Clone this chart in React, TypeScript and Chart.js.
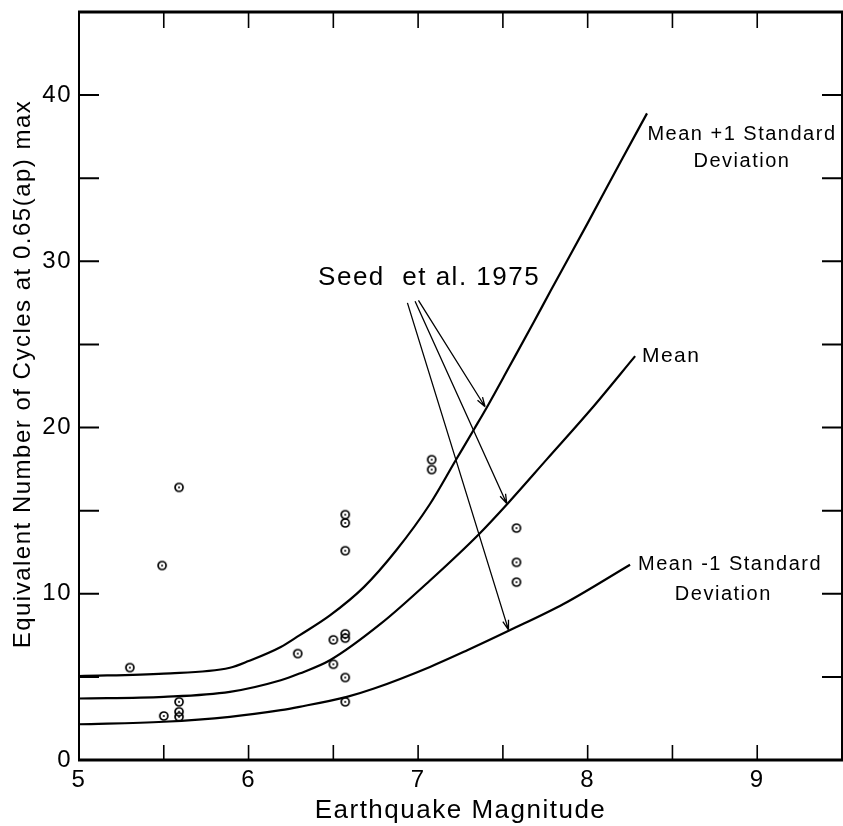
import React, { useEffect, useRef } from 'react';
import { Chart, registerables } from 'chart.js';

Chart.register(...registerables);

const FONT = "'Liberation Sans', Arial, sans-serif";

// Observed data (earthquake magnitude vs equivalent number of cycles)
const pointMagnitudes = [5.30, 5.49, 5.50, 5.59, 5.59, 5.59, 5.59, 6.29, 6.50, 6.50, 6.57, 6.57, 6.57, 6.57, 6.57, 6.57, 6.57, 7.08, 7.08, 7.58, 7.58, 7.58];
const pointCycles = [5.56, 11.7, 2.65, 16.4, 3.5, 2.9, 2.6, 6.4, 7.23, 5.76, 7.33, 7.59, 4.96, 3.5, 14.76, 14.26, 12.59, 18.07, 17.47, 13.95, 11.89, 10.7];

// Seed et al. 1975 curves
const plusSdMagnitudes = [5.0, 5.5, 5.89, 6.0, 6.19, 6.3, 6.48, 6.68, 6.87, 7.07, 7.22, 7.33, 7.41, 7.54, 7.68, 7.78, 8.0, 8.2, 8.35];
const plusSdCycles = [5.05, 5.2, 5.55, 5.95, 6.8, 7.5, 8.7, 10.4, 12.6, 15.4, 18.0, 19.9, 21.3, 23.7, 26.3, 28.2, 32.3, 36.1, 38.9];

const meanMagnitudes = [5.0, 5.5, 5.89, 6.19, 6.3, 6.48, 6.78, 7.07, 7.36, 7.53, 7.76, 8.02, 8.28];
const meanCycles = [3.7, 3.8, 4.1, 4.8, 5.2, 6.0, 8.2, 10.8, 13.6, 15.45, 18.1, 21.1, 24.3];

const minusSdMagnitudes = [5.0, 5.5, 5.89, 6.19, 6.3, 6.58, 6.74, 7.07, 7.29, 7.54, 7.86, 8.25];
const minusSdCycles = [2.15, 2.3, 2.6, 3.0, 3.2, 3.8, 4.3, 5.6, 6.6, 7.8, 9.4, 11.75];

// Axis settings
const xMin = 5;
const xMax = 9.5;
const xStep = 0.5;
const yMin = 0;
const yMax = 45;
const yStep = 5;

const xTitle = 'Earthquake Magnitude';
const yTitle = 'Equivalent Number of Cycles at 0.65(ap) max';

// Annotation anchors (data coordinates)
const seedText = 'Seed  et al. 1975';
const seedAnchor = [6.41, 29.0];
const arrowStarts = [[6.937, 27.5], [6.982, 27.6], [7.002, 27.65]];
const arrowEnds = [[7.533, 7.83], [7.523, 15.42], [7.395, 21.25]];

const plusLabel = ['Mean +1 Standard', 'Deviation'];
const plusLabelAnchor = [[8.91, 37.65], [8.91, 36.0]];
const meanLabel = 'Mean';
const meanLabelAnchor = [8.32, 24.3];
const minusLabel = ['Mean -1 Standard', 'Deviation'];
const minusLabelAnchor = [[8.84, 11.75], [8.80, 9.94]];

function zip(xs: number[], ys: number[]) {
  return xs.map((x, i) => ({ x, y: ys[i] }));
}

function makeMarker(): HTMLCanvasElement {
  const c = document.createElement('canvas');
  c.width = 12;
  c.height = 12;
  const g = c.getContext('2d')!;
  g.strokeStyle = '#000';
  g.lineWidth = 1.7;
  g.beginPath();
  g.arc(6, 6, 4, 0, Math.PI * 2);
  g.stroke();
  g.fillStyle = '#000';
  g.beginPath();
  g.arc(6, 6, 1, 0, Math.PI * 2);
  g.fill();
  return c;
}

function zeroPadding(s: any) {
  s.paddingLeft = 0;
  s.paddingRight = 0;
  s.paddingTop = 0;
  s.paddingBottom = 0;
}

const framePlugin = {
  id: 'frameAndNotes',
  beforeDraw(chart: any) {
    (chart.ctx as any).letterSpacing = '1.5px';
  },
  afterDraw(chart: any) {
    const { ctx, chartArea: a, scales } = chart;
    const xs = scales.x;
    const ys = scales.y;
    const px = (v: number) => xs.getPixelForValue(v);
    const py = (v: number) => ys.getPixelForValue(v);
    ctx.save();
    ctx.strokeStyle = '#000';
    ctx.fillStyle = '#000';
    ctx.lineCap = 'butt';

    // frame
    ctx.lineWidth = 2;
    ctx.beginPath();
    ctx.moveTo(a.left, a.top);
    ctx.lineTo(a.left, a.bottom);
    ctx.moveTo(a.right, a.top);
    ctx.lineTo(a.right, a.bottom);
    ctx.stroke();
    ctx.lineWidth = 3;
    ctx.beginPath();
    ctx.moveTo(a.left - 1, a.top);
    ctx.lineTo(a.right + 1, a.top);
    ctx.moveTo(a.left - 1, a.bottom);
    ctx.lineTo(a.right + 1, a.bottom);
    ctx.stroke();

    // inward ticks
    ctx.lineWidth = 1.6;
    ctx.beginPath();
    xs.ticks.forEach((t: any) => {
      const x = px(t.value);
      ctx.moveTo(x, a.bottom);
      ctx.lineTo(x, a.bottom - 15);
      ctx.moveTo(x, a.top);
      ctx.lineTo(x, a.top + 16);
    });
    ctx.stroke();
    ctx.lineWidth = 2;
    ctx.beginPath();
    ys.ticks.forEach((t: any) => {
      const y = py(t.value);
      ctx.moveTo(a.left, y);
      ctx.lineTo(a.left + 20, y);
      ctx.moveTo(a.right, y);
      ctx.lineTo(a.right - 20, y);
    });
    ctx.stroke();

    // arrows
    ctx.lineWidth = 1.3;
    arrowStarts.forEach((s, i) => {
      const e = arrowEnds[i];
      const sx = px(s[0]), sy = py(s[1]);
      const ex = px(e[0]), ey = py(e[1]);
      ctx.beginPath();
      ctx.moveTo(sx, sy);
      ctx.lineTo(ex, ey);
      const ang = Math.atan2(ey - sy, ex - sx);
      const len = 10;
      ctx.moveTo(ex, ey);
      ctx.lineTo(ex - len * Math.cos(ang - 0.3), ey - len * Math.sin(ang - 0.3));
      ctx.moveTo(ex, ey);
      ctx.lineTo(ex - len * Math.cos(ang + 0.3), ey - len * Math.sin(ang + 0.3));
      ctx.stroke();
    });

    // labels
    ctx.letterSpacing = '1.5px';
    ctx.textBaseline = 'middle';
    ctx.font = `26px ${FONT}`;
    ctx.textAlign = 'left';
    ctx.fillText(seedText, px(seedAnchor[0]), py(seedAnchor[1]));

    ctx.font = `20px ${FONT}`;
    ctx.textAlign = 'center';
    plusLabel.forEach((t, i) => ctx.fillText(t, px(plusLabelAnchor[i][0]), py(plusLabelAnchor[i][1])));
    minusLabel.forEach((t, i) => ctx.fillText(t, px(minusLabelAnchor[i][0]), py(minusLabelAnchor[i][1])));
    ctx.textAlign = 'left';
    ctx.font = `21px ${FONT}`;
    ctx.fillText(meanLabel, px(meanLabelAnchor[0]), py(meanLabelAnchor[1]));

    // y-axis title
    ctx.font = `24px ${FONT}`;
    ctx.textAlign = 'center';
    ctx.translate(23, (a.top + a.bottom) / 2 - 12);
    ctx.rotate(-Math.PI / 2);
    ctx.fillText(yTitle, 0, 0);
    ctx.restore();
  },
};

export default function App() {
  const ref = useRef<HTMLCanvasElement | null>(null);

  useEffect(() => {
    if (!ref.current) return;
    const marker = makeMarker();
    const curveStyle = {
      type: 'scatter' as const,
      showLine: true,
      borderColor: '#000',
      borderWidth: 2.2,
      pointRadius: 0,
      pointHoverRadius: 0,
      fill: false,
      cubicInterpolationMode: 'monotone' as const,
    };
    const chart = new Chart(ref.current, {
      type: 'scatter',
      data: {
        datasets: [
          { ...curveStyle, label: 'Mean +1 Standard Deviation', data: zip(plusSdMagnitudes, plusSdCycles) },
          { ...curveStyle, label: 'Mean', data: zip(meanMagnitudes, meanCycles) },
          { ...curveStyle, label: 'Mean -1 Standard Deviation', data: zip(minusSdMagnitudes, minusSdCycles) },
          {
            type: 'scatter',
            label: 'Observed',
            data: zip(pointMagnitudes, pointCycles),
            pointStyle: marker as any,
            pointRadius: 5,
            showLine: false,
          },
        ],
      },
      options: {
        animation: false,
        responsive: false,
        devicePixelRatio: 1,
        layout: { autoPadding: false, padding: { left: 0, top: 12, right: 1, bottom: 0 } },
        plugins: { legend: { display: false }, tooltip: { enabled: false } },
        scales: {
          x: {
            type: 'linear',
            position: 'bottom',
            min: xMin,
            max: xMax,
            grid: { display: false, drawTicks: false },
            border: { display: false },
            ticks: {
              stepSize: xStep,
              autoSkip: false,
              maxRotation: 0,
              padding: 6,
              color: '#000',
              font: { family: FONT, size: 24 },
              callback: (v: any) => (Number.isInteger(Number(v)) ? String(v) : ''),
            },
            title: {
              display: true,
              text: xTitle,
              color: '#000',
              font: { family: FONT, size: 26 },
              padding: { top: 0, bottom: 0 },
            },
            afterFit: (s: any) => {
              s.height = 66;
              zeroPadding(s);
            },
          },
          y: {
            type: 'linear',
            position: 'left',
            min: yMin,
            max: yMax,
            grid: { display: false, drawTicks: false },
            border: { display: false },
            ticks: {
              stepSize: yStep,
              autoSkip: false,
              padding: 7,
              color: '#000',
              font: { family: FONT, size: 24 },
              callback: (v: any) => (Number(v) % 10 === 0 ? String(v) : ''),
            },
            afterFit: (s: any) => {
              s.width = 79;
              zeroPadding(s);
            },
          },
        },
      },
      plugins: [framePlugin],
    });
    return () => chart.destroy();
  }, []);

  return (
    <div style={{ position: 'absolute', left: 0, top: 0, width: 843, height: 826, background: '#fff' }}>
      <canvas ref={ref} width={843} height={826} style={{ display: 'block' }} />
    </div>
  );
}
